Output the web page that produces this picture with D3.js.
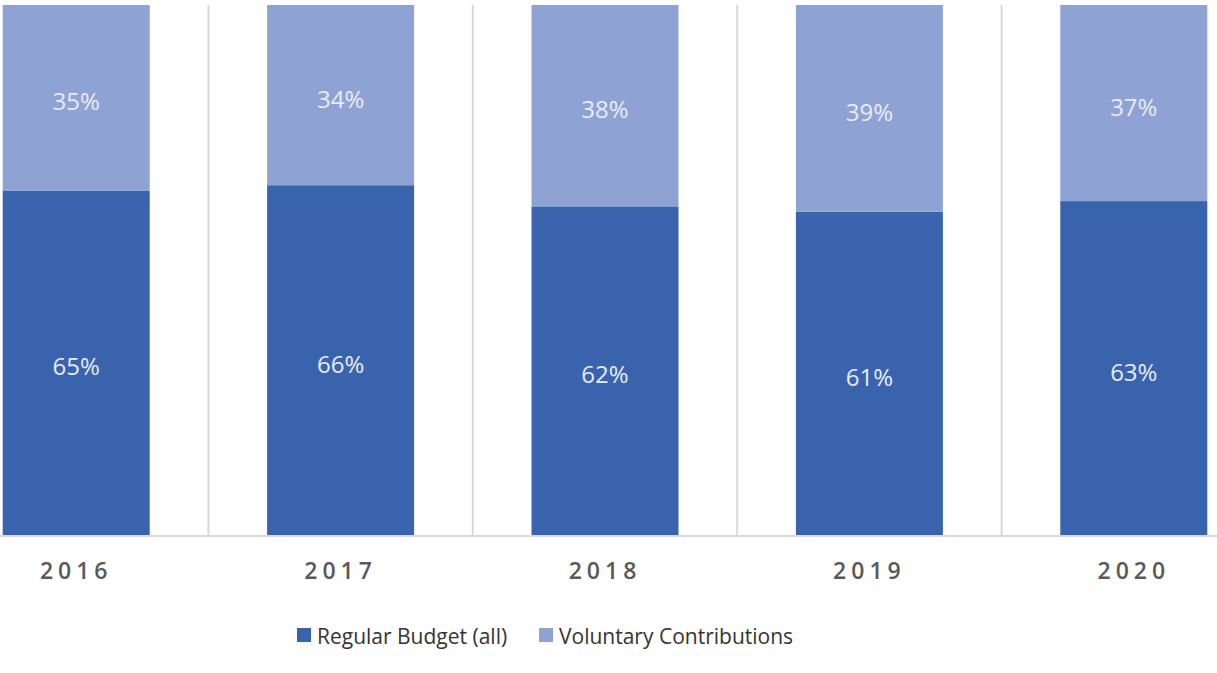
<!DOCTYPE html>
<html><head><meta charset="utf-8">
<script src="https://cdn.jsdelivr.net/npm/d3@7"></script>
<style>body{margin:0;background:#fff}svg{display:block}</style>
</head><body><svg id="c" width="1217" height="673"></svg>
<script>
const years = ["2016","2017","2018","2019","2020"];
const regularBudget = [65,66,62,61,63];
const voluntary = [35,34,38,39,37];
const seriesNames = ["Regular Budget (all)","Voluntary Contributions"];
const colors = ["#3a63ae","#8fa2d4"];

const svg = d3.select("#c");
const x = d3.scaleBand().domain(years).range([-56,1266]).paddingInner(0.444).paddingOuter(0.222);
const y = d3.scaleLinear().domain([0,100]).range([535,5]);

const rows = years.map((yr,i)=>({year:yr, rb:regularBudget[i], vc:voluntary[i]}));
const stack = d3.stack().keys(["rb","vc"])(rows);

const step = x.step();
svg.append("g").selectAll("line").data(years.slice(1)).join("line")
  .attr("x1",d=>x(d)-(step-x.bandwidth())/2).attr("x2",d=>x(d)-(step-x.bandwidth())/2)
  .attr("y1",5).attr("y2",535).attr("stroke","#d9d9d9").attr("stroke-width",2);

const g = svg.append("g");
stack.forEach((s,si)=>{
  g.append("g").selectAll("rect").data(s).join("rect")
    .attr("x",d=>x(d.data.year)).attr("width",x.bandwidth())
    .attr("y",d=>y(d[1])).attr("height",d=>y(d[0])-y(d[1]))
    .attr("fill",colors[si]);
  g.append("g").selectAll("text").data(s).join("text")
    .attr("x",d=>x(d.data.year)+x.bandwidth()/2)
    .attr("y",d=>(y(d[0])+y(d[1]))/2+3)
    .attr("text-anchor","middle").attr("dominant-baseline","central")
    .attr("font-family","Open Sans, sans-serif").attr("font-size",24)
    .attr("fill","#e8ecf7")
    .text(d=>(d[1]-d[0])+"%");
});

svg.append("line").attr("x1",0).attr("x2",1217).attr("y1",536).attr("y2",536)
  .attr("stroke","#d9d9d9").attr("stroke-width",2);

const xAxis = svg.append("g").attr("transform","translate(0,536)")
  .call(d3.axisBottom(x).tickSize(0).tickPadding(0));
xAxis.select(".domain").remove();
xAxis.selectAll("text").attr("y",34).attr("dy",0).attr("dominant-baseline","central")
  .attr("font-family","Open Sans, sans-serif").attr("font-size",23).attr("font-weight",600)
  .attr("letter-spacing","5px").attr("fill","#595959");

const leg = svg.append("g");
const items = [{x:297,name:seriesNames[0],c:colors[0]},{x:539,name:seriesNames[1],c:colors[1]}];
items.forEach(it=>{
  leg.append("rect").attr("x",it.x).attr("y",628).attr("width",14).attr("height",14).attr("fill",it.c);
  leg.append("text").attr("x",it.x+20).attr("y",636).attr("dominant-baseline","central")
    .attr("font-family","Open Sans, sans-serif").attr("font-size",21)
    .attr("fill","#333333").text(it.name);
});
</script></body></html>
